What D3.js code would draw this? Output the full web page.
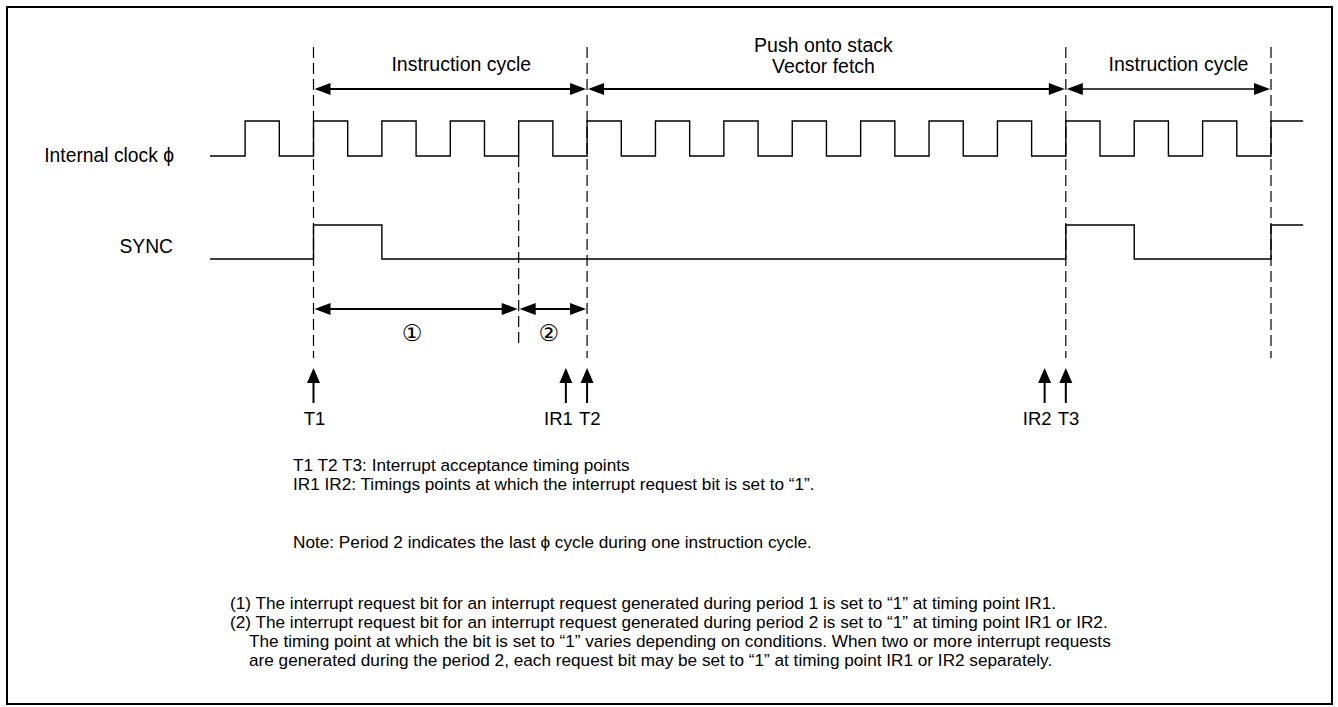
<!DOCTYPE html>
<html>
<head>
<meta charset="utf-8">
<script src="https://cdn.jsdelivr.net/npm/d3@7"></script>
<style>
  body { margin: 0; background: #fff; }
  text { font-family: "Liberation Sans", Arial, sans-serif; fill: #000; }
</style>
</head>
<body>
<div class="chart"></div>
<script>
// timing diagram, x in clock cycles (0 = T1)
var clockRises = [-1, 0, 1, 2, 3, 4, 5, 6, 7, 8, 9, 10, 11, 12, 13, 14];
var syncHigh = [[0, 1], [11, 12], [14, 14.47]];
var spans = [
    {from: 0, to: 4, label: ["Instruction cycle"]},
    {from: 4, to: 11, label: ["Push onto stack", "Vector fetch"]},
    {from: 11, to: 14, label: ["Instruction cycle"]}
];
var spanLabelShift = [11, -3, 10];
var spanLineWidth = [2, 2, 1.4];
var periods = [{from: 0, to: 3, label: "\u2460"}, {from: 3, to: 4, label: "\u2461"}];
var timingPoints = [
    {name: "T1", t: 0, side: "mid"},
    {name: "IR1", t: 3.69, side: "left"},
    {name: "T2", t: 4, side: "right"},
    {name: "IR2", t: 10.69, side: "left"},
    {name: "T3", t: 11, side: "right"}
];
var longDashes = [0, 4, 11, 14];
var notes1 = [
    "T1 T2 T3: Interrupt acceptance timing points",
    "IR1 IR2: Timings points at which the interrupt request bit is set to \u201c1\u201d."
];
var notes2 = ["Note: Period 2 indicates the last \u03d5 cycle during one instruction cycle."];
var notes3 = [
    {x: 0, s: "(1) The interrupt request bit for an interrupt request generated during period 1 is set to \u201c1\u201d at timing point IR1."},
    {x: 0, s: "(2) The interrupt request bit for an interrupt request generated during period 2 is set to \u201c1\u201d at timing point IR1 or IR2."},
    {x: 1, s: "The timing point at which the bit is set to \u201c1\u201d varies depending on conditions. When two or more interrupt requests"},
    {x: 1, s: "are generated during the period 2, each request bit may be set to \u201c1\u201d at timing point IR1 or IR2 separately."}
];

var svgWidth = 1338;
var svgHeight = 707;
var tStart = -1.513, tEnd = 14.47;

var svg = d3.select(".chart")
    .append("svg")
    .attr("width", svgWidth)
    .attr("height", svgHeight);

var x = d3.scaleLinear().domain([0, 14]).range([313.5, 1271]);

svg.append("rect")
    .attr("x", 7).attr("y", 7)
    .attr("width", 1325).attr("height", 697)
    .attr("fill", "none").attr("stroke", "#000").attr("stroke-width", 2);

// dashed guides
longDashes.forEach(function(t) {
    svg.append("line")
        .attr("x1", x(t)).attr("x2", x(t))
        .attr("y1", 47).attr("y2", 358)
        .attr("stroke", "#000").attr("stroke-width", 1.2)
        .attr("stroke-dasharray", "11,5");
});
svg.append("line")
    .attr("x1", x(3)).attr("x2", x(3))
    .attr("y1", 156).attr("y2", 343)
    .attr("stroke", "#000").attr("stroke-width", 1.2)
    .attr("stroke-dasharray", "11,5");

// clock
var clkHi = 121, clkLo = 156;
var clkPts = [[x(tStart), clkLo]];
clockRises.forEach(function(t) {
    clkPts.push([x(t), clkLo], [x(t), clkHi]);
    if (t + 0.5 < tEnd) clkPts.push([x(t + 0.5), clkHi], [x(t + 0.5), clkLo]);
});
clkPts.push([x(tEnd), clkHi]);
svg.append("path")
    .attr("d", d3.line()(clkPts))
    .attr("fill", "none").attr("stroke", "#000").attr("stroke-width", 1.4);

// sync
var syHi = 225, syLo = 259;
var syPts = [[x(tStart), syLo]];
syncHigh.forEach(function(p) {
    syPts.push([x(p[0]), syLo], [x(p[0]), syHi], [x(p[1]), syHi]);
    if (p[1] < tEnd) syPts.push([x(p[1]), syLo]);
});
svg.append("path")
    .attr("d", d3.line()(syPts))
    .attr("fill", "none").attr("stroke", "#000").attr("stroke-width", 1.4);

svg.append("text").attr("x", 174).attr("y", 162).attr("text-anchor", "end")
    .attr("font-size", 19.3).text("Internal clock \u03d5");
svg.append("text").attr("x", 173).attr("y", 253).attr("text-anchor", "end")
    .attr("font-size", 19.3).text("SYNC");

function dimArrow(x1, x2, y, w) {
    svg.append("line")
        .attr("x1", x1 + 4).attr("x2", x2 - 4).attr("y1", y).attr("y2", y)
        .attr("stroke", "#000").attr("stroke-width", w);
    svg.append("path")
        .attr("d", d3.line()([[x1 + 1, y], [x1 + 17, y - 6], [x1 + 17, y + 6]]) + "Z");
    svg.append("path")
        .attr("d", d3.line()([[x2 - 1, y], [x2 - 17, y - 6], [x2 - 17, y + 6]]) + "Z");
}

spans.forEach(function(s, k) {
    dimArrow(x(s.from), x(s.to), 89, spanLineWidth[k]);
    var cx = (x(s.from) + x(s.to)) / 2 + spanLabelShift[k];
    var y0 = 71 - (s.label.length - 1) * 19;
    s.label.forEach(function(l, i) {
        svg.append("text").attr("x", cx).attr("y", y0 + i * 21)
            .attr("text-anchor", "middle").attr("font-size", 19.5).text(l);
    });
});

periods.forEach(function(p) {
    dimArrow(x(p.from), x(p.to), 309, 2);
    svg.append("text")
        .attr("x", (x(p.from) + x(p.to)) / 2 - 4).attr("y", 341)
        .attr("text-anchor", "middle")
        .style("font-family", "'DejaVu Sans', sans-serif")
        .attr("font-size", 23).text(p.label);
});

// timing point arrows
timingPoints.forEach(function(p) {
    var px = x(p.t);
    svg.append("line").attr("x1", px).attr("x2", px).attr("y1", 380).attr("y2", 403)
        .attr("stroke", "#000").attr("stroke-width", 2);
    svg.append("path")
        .attr("d", d3.line()([[px, 368], [px - 6.5, 383], [px + 6.5, 383]]) + "Z");
    var t = svg.append("text").attr("y", 425).attr("font-size", 18.5).text(p.name);
    if (p.side === "mid") t.attr("x", px + 1).attr("text-anchor", "middle");
    if (p.side === "left") t.attr("x", px + 7).attr("text-anchor", "end");
    if (p.side === "right") t.attr("x", px - 8).attr("text-anchor", "start");
});

notes1.forEach(function(s, i) {
    svg.append("text").attr("x", 293).attr("y", 471 + i * 19).attr("font-size", 17.2).text(s);
});
notes2.forEach(function(s, i) {
    svg.append("text").attr("x", 293).attr("y", 548 + i * 19).attr("font-size", 17.2).text(s);
});
notes3.forEach(function(n, i) {
    svg.append("text").attr("x", 230 + n.x * 19).attr("y", 609 + i * 19)
        .attr("font-size", 17.2).text(n.s);
});
</script>
</body>
</html>
